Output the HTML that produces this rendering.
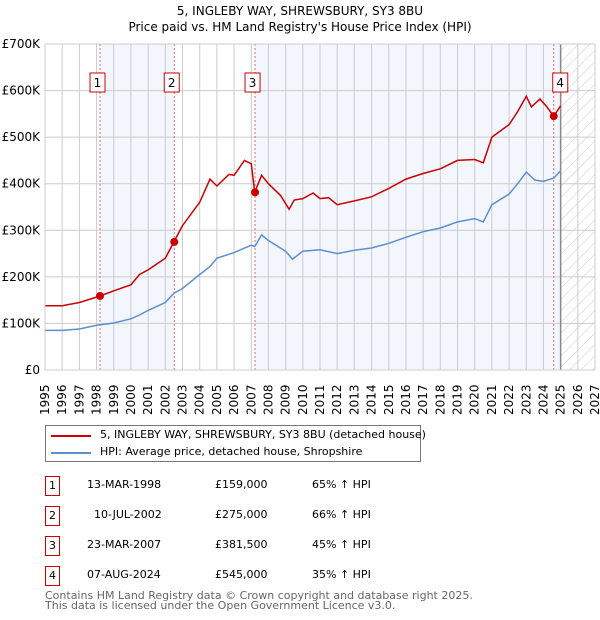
<!DOCTYPE html>
<html><head><meta charset="utf-8"><style>
body{margin:0;background:#fff;font-family:"DejaVu Sans","Liberation Sans",sans-serif;}
#wrap{position:relative;width:600px;height:620px;overflow:hidden;}
.t{position:absolute;font-size:11px;color:#000;white-space:nowrap;}
.box{position:absolute;width:13px;height:18px;border:1px solid #c00;font-size:11px;text-align:center;line-height:18px;}
.foot{position:absolute;left:45px;font-size:11px;color:#666;white-space:nowrap;}
</style></head><body>
<div id="wrap">
<svg id="chart" width="600" height="420" style="position:absolute;left:0;top:0"></svg>
<div style="position:absolute;left:45px;top:425px;width:374px;height:35px;border:1px solid #777;">
 <div style="position:absolute;left:5px;top:9px;width:40px;height:2px;background:#c00"></div>
 <div class="t" style="left:54px;top:2px">5, INGLEBY WAY, SHREWSBURY, SY3 8BU (detached house)</div>
 <div style="position:absolute;left:5px;top:26px;width:40px;height:2px;background:#5b8fd4"></div>
 <div class="t" style="left:54px;top:19px">HPI: Average price, detached house, Shropshire</div>
</div>
<div>
 <div class="box" style="left:45px;top:476px">1</div>
 <div class="t" style="left:87px;top:478px">13-MAR-1998</div><div class="t" style="left:215px;top:478px">£159,000</div><div class="t" style="left:312px;top:478px">65% ↑ HPI</div>
 <div class="box" style="left:45px;top:506px">2</div>
 <div class="t" style="left:94px;top:508px">10-JUL-2002</div><div class="t" style="left:215px;top:508px">£275,000</div><div class="t" style="left:312px;top:508px">66% ↑ HPI</div>
 <div class="box" style="left:45px;top:536px">3</div>
 <div class="t" style="left:87px;top:538px">23-MAR-2007</div><div class="t" style="left:215px;top:538px">£381,500</div><div class="t" style="left:312px;top:538px">45% ↑ HPI</div>
 <div class="box" style="left:45px;top:566px">4</div>
 <div class="t" style="left:87px;top:568px">07-AUG-2024</div><div class="t" style="left:215px;top:568px">£545,000</div><div class="t" style="left:312px;top:568px">35% ↑ HPI</div>
</div>
<div class="foot" style="top:589px">Contains HM Land Registry data © Crown copyright and database right 2025.</div>
<div class="foot" style="top:599px">This data is licensed under the Open Government Licence v3.0.</div>
</div>
<script>
const yTicks=[0,100,200,300,400,500,600,700];
const yTickLabels=["£0","£100K","£200K","£300K","£400K","£500K","£600K","£700K"];
const years=[1995,1996,1997,1998,1999,2000,2001,2002,2003,2004,2005,2006,2007,2008,2009,2010,2011,2012,2013,2014,2015,2016,2017,2018,2019,2020,2021,2022,2023,2024,2025,2026,2027];
const hpiT=[1995,1996,1997,1998,1999,2000,2000.5,2001,2002,2002.5,2003,2004,2004.6,2005,2006,2007,2007.2,2007.6,2008,2009,2009.4,2010,2011,2012,2013,2014,2015,2016,2017,2018,2019,2020,2020.5,2021,2022,2022.5,2023,2023.5,2024,2024.6,2025];
const hpiV=[85,85,88,96,101,110,118,128,145,165,175,205,222,240,252,268,265,290,278,255,238,255,258,250,257,262,272,285,297,305,318,325,318,355,378,400,425,408,405,412,428];
const redT=[1995,1996,1997,1998.2,1999,2000,2000.5,2001,2002,2002.5,2003,2004,2004.6,2005,2005.7,2006,2006.6,2007,2007.2,2007.6,2008,2008.7,2009.2,2009.5,2010,2010.6,2011,2011.5,2012,2013,2014,2015,2016,2017,2018,2019,2020,2020.5,2021,2022,2022.5,2023,2023.3,2023.8,2024.2,2024.6,2025];
const redV=[138,138,145,159,170,183,205,215,240,275,310,360,410,395,420,418,450,443,381.5,418,400,375,345,365,368,380,368,370,355,363,372,390,410,422,432,450,452,445,500,527,555,588,565,582,565,545,567];
const saleT=[1998.2,2002.52,2007.22,2024.6];
const saleV=[159,275,381.5,545];
const saleLabels=["1","2","3","4"];
const X0=45,X1=595,Y0=370,Y1=44;
const x=t=>X0+(t-1995)/(2027-1995)*(X1-X0);
const y=v=>Y0-v/700*(Y0-Y1);
const svg=document.getElementById('chart');const NS='http://www.w3.org/2000/svg';
function mk(tag,at,par){const e=document.createElementNS(NS,tag);for(const k in at)e.setAttribute(k,at[k]);(par||svg).appendChild(e);return e;}
let e;
e=mk('text',{x:300,y:15,'text-anchor':'middle','font-size':12,'font-family':'DejaVu Sans,sans-serif'});e.textContent='5, INGLEBY WAY, SHREWSBURY, SY3 8BU';

e=mk('text',{x:300,y:31,'text-anchor':'middle','font-size':12,'font-family':'DejaVu Sans,sans-serif'});e.textContent="Price paid vs. HM Land Registry's House Price Index (HPI)";

e=mk('rect',{x:x(saleT[0]),y:Y1,width:x(saleT[1])-x(saleT[0]),height:Y0-Y1,fill:'#f3f6fd'});

e=mk('rect',{x:x(saleT[2]),y:Y1,width:x(2025)-x(saleT[2]),height:Y0-Y1,fill:'#f3f6fd'});

const defs=mk('defs',{});const pat=mk('pattern',{id:'h',width:8,height:8,patternUnits:'userSpaceOnUse',patternTransform:'rotate(45)'},defs);
mk('line',{x1:0,y1:0,x2:0,y2:8,stroke:'#ccc','stroke-width':1},pat);
e=mk('rect',{x:x(2025),y:Y1,width:X1-x(2025),height:Y0-Y1,fill:'url(#h)'});

years.forEach(yr=>{e=mk('line',{x1:x(yr),x2:x(yr),y1:Y1,y2:Y0,stroke:'#ccc'});

e=mk('text',{transform:`translate(${x(yr)+4},415) rotate(-90)`,'font-size':12,'font-family':'DejaVu Sans,sans-serif'});e.textContent=yr;
});
yTicks.forEach((v,i)=>{e=mk('line',{x1:X0,x2:X1,y1:y(v),y2:y(v),stroke:'#ccc'});

e=mk('text',{x:40,y:y(v)+4,'text-anchor':'end','font-size':12,'font-family':'DejaVu Sans,sans-serif'});e.textContent=yTickLabels[i];
});
e=mk('line',{x1:x(2025),x2:x(2025),y1:Y1,y2:Y0,stroke:'#888','stroke-width':1.5});

saleT.forEach((t,i)=>{e=mk('line',{x1:x(t),x2:x(t),y1:Y1,y2:Y0,stroke:'#e66','stroke-dasharray':'2,2'});
});
const path=(T,V)=>T.map((t,i)=>(i?'L':'M')+x(t).toFixed(1)+','+y(V[i]).toFixed(1)).join('');
e=mk('path',{d:path(hpiT,hpiV),fill:'none',stroke:'#5b8fd4','stroke-width':1.5});

e=mk('path',{d:path(redT,redV),fill:'none',stroke:'#c00','stroke-width':1.5});

saleT.forEach((t,i)=>{e=mk('circle',{cx:x(t),cy:y(saleV[i]),r:4,fill:'#c00'});

e=mk('rect',{x:x(t)-(i==3?1:10),y:73,width:15,height:19,fill:'#fff',stroke:'#c00'});

e=mk('text',{x:x(t)-(i==3?1:10)+7.5,y:87,'text-anchor':'middle','font-size':12,'font-family':'DejaVu Sans,sans-serif'});e.textContent=saleLabels[i];
});
e=mk('rect',{x:X0,y:Y1,width:X1-X0,height:Y0-Y1,fill:'none',stroke:'#ccc'});

</script>
</body></html>
